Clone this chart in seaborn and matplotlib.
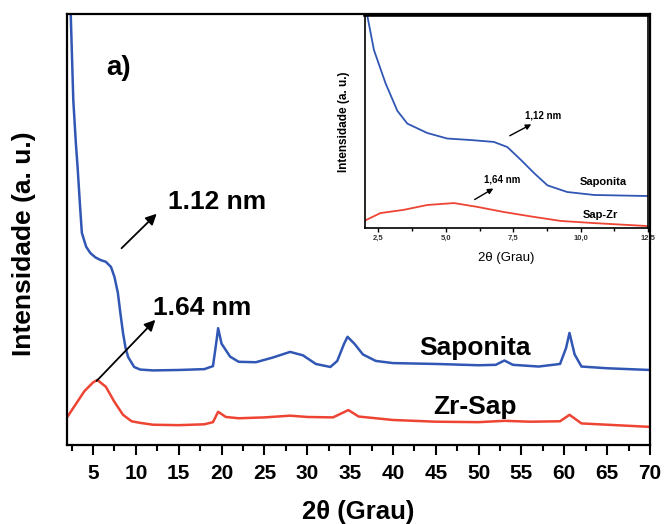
import matplotlib
matplotlib.use("Agg")
import matplotlib.pyplot as plt
import seaborn as sns
from matplotlib.ticker import MultipleLocator, FixedLocator

# ---------------- data ----------------
sap_x = [2.0, 2.2, 2.4, 2.7, 3.0, 3.2, 3.5, 3.7, 4.2, 4.7, 5.3, 5.9, 6.5, 7.1, 7.5, 7.9,
         8.2, 8.5, 8.8, 9.1, 9.8, 10.5, 12, 15, 18, 19.0, 19.4, 19.6, 20.0, 21, 22, 24,
         26, 28, 29.5, 31, 32.7, 33.5, 34.3, 34.7, 35.5, 36.5, 38, 40, 45, 50, 52, 53,
         54, 57, 59.5, 60.2, 60.6, 61.2, 62, 65, 70]
sap_y = [140, 115, 100, 80, 70, 64.5, 55, 49.2, 46, 44.5, 43.5, 42.9, 42.5, 41.3, 39, 35.3,
         30.5, 26, 22.5, 20.4, 18.1, 17.5, 17.3, 17.4, 17.6, 18.3, 24, 27.1, 23.5, 20.5, 19.3, 19.2,
         20.3, 21.6, 20.8, 18.8, 18.1, 19.5, 23.5, 25.1, 23.5, 21, 19.5, 19.0, 18.8, 18.5, 18.6, 19.6,
         18.6, 18.2, 18.8, 22.5, 26, 21, 18.2, 17.8, 17.4]

zr_x = [2.0, 3.0, 4.0, 5.0, 5.5, 6.5, 7.5, 8.5, 9.5, 10.6, 12, 15, 18, 19.0, 19.6, 20.5,
        22, 25, 28, 30, 33, 34.8, 36, 40, 45, 50, 53, 56, 59.5, 60.6, 62, 66, 70]
zr_y = [6.5, 9.5, 12.5, 14.5, 15.1, 13.5, 10, 7, 5.5, 5.1, 4.7, 4.6, 4.8, 5.3, 7.7, 6.5,
        6.2, 6.4, 6.8, 6.5, 6.4, 8.1, 6.6, 5.8, 5.4, 5.3, 5.6, 5.4, 5.5, 7, 5, 4.6, 4.2]

ins_sap_x = [2.0, 2.08, 2.33, 2.76, 3.2, 3.57, 4.31, 5.05, 5.92, 6.78, 7.28, 7.78, 8.27,
             8.77, 9.5, 10.5, 12.5]
ins_sap_y = [108, 100, 83.6, 68, 55, 49, 44.6, 42, 41.3, 40.4, 38, 32, 25.8, 20, 16.9, 15.5, 15]
ins_zr_x = [2.0, 2.57, 3.43, 4.31, 5.3, 6.17, 7.15, 8.27, 9.27, 10.5, 12.5]
ins_zr_y = [3.5, 7, 8.5, 10.8, 11.7, 9.9, 7.5, 5.2, 3.3, 2.3, 0.9]

main_xticks = [5, 10, 15, 20, 25, 30, 35, 40, 45, 50, 55, 60, 65, 70]
inset_xticks = [2.5, 5.0, 7.5, 10.0, 12.5]
inset_xticklabels = ["2,5", "5,0", "7,5", "10,0", "12,5"]

BLUE = "#3157b4"
RED = "#ee4434"

sns.set_style("ticks")
plt.rcParams["font.family"] = ["Liberation Sans", "DejaVu Sans"]
plt.rcParams["text.color"] = "black"
plt.rcParams["axes.labelcolor"] = "black"
plt.rcParams["xtick.color"] = "black"
plt.rcParams["ytick.color"] = "black"

fig = plt.figure(figsize=(6.65, 5.24), dpi=100)
ax = fig.add_axes([0.1012, 0.1508, 0.8763, 0.8225])

sns.lineplot(x=sap_x, y=sap_y, ax=ax, color=BLUE, lw=1.8, sort=False)
sns.lineplot(x=zr_x, y=zr_y, ax=ax, color=RED, lw=1.8, sort=False)

ax.set_xlim(2.0, 70)
ax.set_ylim(0, 100)
ax.xaxis.set_major_locator(FixedLocator(main_xticks))
ax.xaxis.set_minor_locator(MultipleLocator(2.5))
ax.set_yticks([])
ax.tick_params(axis="x", which="major", direction="out", length=7, width=1.5,
               labelsize=15, pad=7)
ax.tick_params(axis="x", which="minor", direction="out", length=4, width=1.5)
for lab in ax.get_xticklabels():
    lab.set_fontweight("bold")
for s in ax.spines.values():
    s.set_linewidth(1.6)
    s.set_color("black")

ax.set_xlabel("2θ (Grau)", fontsize=18.5, fontweight="bold", labelpad=12)
ax.set_ylabel("Intensidade (a. u.)", fontsize=19, fontweight="bold")
ax.yaxis.set_label_coords(-0.053, 0.466)

arrow = dict(arrowstyle="-|>", color="black", lw=1.3, mutation_scale=16)
ax.annotate("", xy=(12.66, 54.1), xytext=(8.1, 45.2), arrowprops=arrow)
ax.annotate("", xy=(12.5, 29.5), xytext=(5.2, 14.4), arrowprops=arrow)
ax.text(19.5, 56.4, "1.12 nm", fontsize=19, fontweight="bold", ha="center", va="center")
ax.text(17.75, 31.8, "1.64 nm", fontsize=19, fontweight="bold", ha="center", va="center")
ax.text(8.0, 87.5, "a)", fontsize=20, fontweight="bold", ha="center", va="center")
ax.text(49.6, 22.5, "Saponita", fontsize=19, fontweight="bold", ha="center", va="center")
ax.text(49.6, 8.8, "Zr-Sap", fontsize=19, fontweight="bold", ha="center", va="center")

# ---------------- inset ----------------
ins = fig.add_axes([0.5489, 0.5649, 0.4256, 0.4065])
sns.lineplot(x=ins_sap_x, y=ins_sap_y, ax=ins, color=BLUE, lw=1.3, sort=False)
sns.lineplot(x=ins_zr_x, y=ins_zr_y, ax=ins, color=RED, lw=1.3, sort=False)
ins.set_xlim(2.0, 12.5)
ins.set_ylim(0, 100)
ins.xaxis.set_major_locator(FixedLocator(inset_xticks))
ins.set_xticklabels(inset_xticklabels)
ins.xaxis.set_minor_locator(MultipleLocator(1.25))
ins.set_yticks([])
ins.tick_params(axis="x", which="major", direction="out", length=3, width=1.0,
                labelsize=5.5, pad=2, labelcolor="#333333")
ins.tick_params(axis="x", which="minor", direction="out", length=2, width=1.0)
for lab in ins.get_xticklabels():
    lab.set_fontweight("bold")
for s in ins.spines.values():
    s.set_linewidth(1.2)
    s.set_color("black")
ins.spines["top"].set_linewidth(2.6)
ins.set_xlabel("2θ (Grau)", fontsize=9.5, labelpad=7)
ins.set_ylabel("Intensidade (a. u.)", fontsize=8.5, fontweight="bold", labelpad=11)

arrow_s = dict(arrowstyle="-|>", color="black", lw=1.0, mutation_scale=8)
ins.annotate("", xy=(8.26, 49.3), xytext=(7.28, 42.7), arrowprops=arrow_s)
ins.annotate("", xy=(6.85, 19.2), xytext=(5.98, 12.7), arrowprops=arrow_s)
ins.text(8.59, 52.6, "1,12 nm", fontsize=7, fontweight="bold", ha="center", va="center")
ins.text(7.1, 23.0, "1,64 nm", fontsize=7, fontweight="bold", ha="center", va="center")
ins.text(10.85, 21.6, "Saponita", fontsize=8, fontweight="bold", ha="center", va="center")
ins.text(10.75, 6.1, "Sap-Zr", fontsize=8, fontweight="bold", ha="center", va="center")

fig.savefig("out.png", dpi=100)
